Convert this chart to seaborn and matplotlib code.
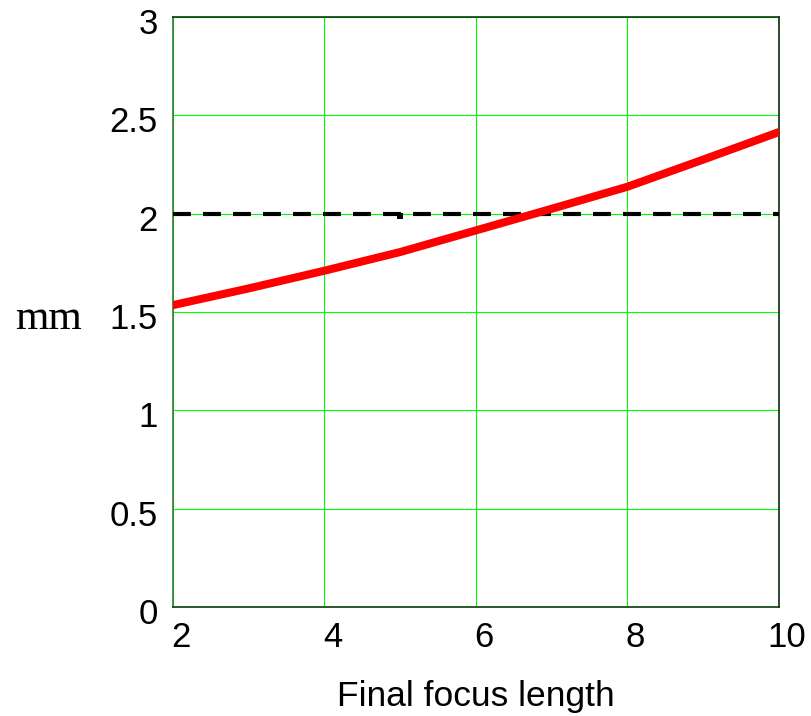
import matplotlib
matplotlib.use("Agg")
import matplotlib.pyplot as plt
import matplotlib.transforms as mtransforms
import seaborn as sns
import pandas as pd

# Data
focus_length = [2, 3, 4, 5, 6, 7, 8, 9, 10]
mm_values = [1.535, 1.62, 1.71, 1.805, 1.915, 2.025, 2.137, 2.275, 2.415]
limit_x = [2, 10]
limit_y = [2.0, 2.0]
marker_x = [5]
marker_y = [1.99]
x_ticks = [2, 4, 6, 8, 10]
y_ticks = [0, 0.5, 1, 1.5, 2, 2.5, 3]
y_tick_labels = ["0", "0.5", "1", "1.5", "2", "2.5", "3"]

sns.set_theme(style="white")
plt.rcParams['font.family'] = ['Liberation Sans', 'DejaVu Sans']
plt.rcParams['text.color'] = 'black'
plt.rcParams['axes.labelcolor'] = 'black'

fig = plt.figure(figsize=(8.12, 7.16), dpi=100)
ax = fig.add_axes([173/812, 1-607/716, (779-173)/812, (607-17)/716])

df = pd.DataFrame({"x": focus_length, "y": mm_values})
dfl = pd.DataFrame({"x": limit_x, "y": limit_y})

ax.set_xlim(2, 10)
ax.set_ylim(0, 3)
ax.set_xticks(x_ticks)
ax.set_yticks(y_ticks)
ax.set_yticklabels(y_tick_labels)

ax.grid(True, color="#00ff00", linewidth=0.8)
ax.set_axisbelow(True)

sns.lineplot(data=dfl, x="x", y="y", ax=ax, color="black", linewidth=3.0,
             dashes=False, zorder=3)
ax.lines[-1].set_dashes((4.3, 2.9))
ax.lines[-1].set_dash_capstyle("butt")
sns.lineplot(data=df, x="x", y="y", ax=ax, color="#ff0000", linewidth=5.8,
             zorder=4)
sns.scatterplot(x=marker_x, y=marker_y, ax=ax, marker="s", s=20,
                color="black", linewidth=0, zorder=5)

for side, col in [("left", "#3a7a3a"), ("bottom", "#0a3a0a"),
                  ("top", "#0a3a0a"), ("right", "#0a2a0a")]:
    ax.spines[side].set_visible(True)
    ax.spines[side].set_color(col)
    ax.spines[side].set_linewidth(1.2)

ax.tick_params(axis="both", length=0, labelsize=25, colors="black")
ax.tick_params(axis="x", pad=10)
ax.tick_params(axis="y", pad=11)

dx = mtransforms.ScaledTranslation(8/100, 0, fig.dpi_scale_trans)
for lab in ax.get_xticklabels():
    lab.set_transform(lab.get_transform() + dx)
dy = mtransforms.ScaledTranslation(0, -4/100, fig.dpi_scale_trans)
for lab in ax.get_yticklabels():
    lab.set_transform(lab.get_transform() + dy)

ax.set_xlabel("Final focus length", fontsize=25.5, labelpad=19, color="black")
ax.set_ylabel("")
fig.text(49/812, 1-319/716, "mm", fontsize=31, family="Liberation Serif",
         ha="center", va="center", color="black")

fig.savefig("out.png", dpi=100)
